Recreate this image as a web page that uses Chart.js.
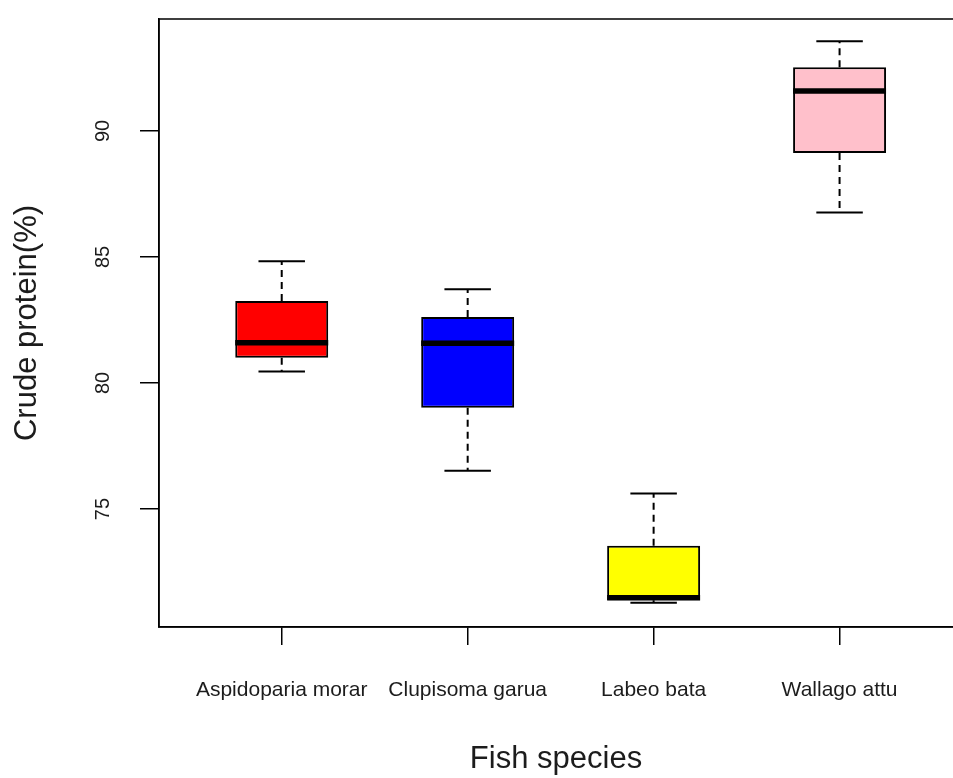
<!DOCTYPE html>
<html lang="en">
<head>
<meta charset="UTF-8">
<title>Crude protein by fish species</title>
<style>
  html, body { margin: 0; padding: 0; background: #fff; overflow: hidden; }
  #boxChart { display: block; }
</style>
</head>
<body>
<canvas id="boxChart" width="953" height="778"></canvas>
<script src="https://cdn.jsdelivr.net/npm/chart.js"></script>
<script>
// values
const species = ['Aspidoparia morar', 'Clupisoma garua', 'Labeo bata', 'Wallago attu'];
const whiskerLow = [80.46, 76.52, 71.28, 86.76];
const q1 = [81.0, 79.02, 71.38, 89.12];
const median = [81.6, 81.58, 71.48, 91.58];
const q3 = [83.25, 82.62, 73.54, 92.53];
const whiskerHigh = [84.83, 83.72, 75.62, 93.56];
const yTicks = [75, 80, 85, 90];
const boxColors = ['#ff0000', '#0000ff', '#ffff00', '#ffc0cb'];

const boxHalf = 0.25;   // boxwex 0.5
const capHalf = 0.125;  // staplewex 0.5
const xPos = species.map((s, i) => i + 1);
const font = "'Liberation Sans', Arial, sans-serif";
const ink = '#1c1c1c';

// line segments separated by null points
function segments(fn) {
    let pts = [];
    xPos.forEach((x, i) => {
        pts = pts.concat(fn(x, i));
        pts.push({ x: x, y: null });
    });
    return pts;
}

const lineBase = {
    type: 'line',
    borderColor: '#000',
    pointRadius: 0,
    fill: false,
    spanGaps: false,
    borderCapStyle: 'butt'
};

const datasets = [
    {
        type: 'bar',
        data: xPos.map((x, i) => ({ x: x, y: [q1[i], q3[i]] })),
        backgroundColor: boxColors,
        borderColor: '#000',
        borderWidth: 2,
        borderSkipped: false,
        barPercentage: boxHalf * 2,
        categoryPercentage: 1,
        order: 3
    },
    Object.assign({}, lineBase, {
        data: segments((x, i) => [{ x: x, y: q3[i] }, { x: x, y: whiskerHigh[i] }]),
        borderWidth: 2,
        borderDash: [7, 5],
        order: 2
    }),
    Object.assign({}, lineBase, {
        data: segments((x, i) => [{ x: x, y: q1[i] }, { x: x, y: whiskerLow[i] }]),
        borderWidth: 2,
        borderDash: [7, 5],
        order: 2
    }),
    Object.assign({}, lineBase, {
        data: segments((x, i) => [
            { x: x - capHalf, y: whiskerHigh[i] }, { x: x + capHalf, y: whiskerHigh[i] },
            { x: x, y: null },
            { x: x - capHalf, y: whiskerLow[i] }, { x: x + capHalf, y: whiskerLow[i] }
        ]),
        borderWidth: 2,
        order: 2
    }),
    Object.assign({}, lineBase, {
        data: segments((x, i) => [{ x: x - boxHalf, y: median[i] }, { x: x + boxHalf, y: median[i] }]),
        borderWidth: 5.5,
        order: 0
    })
];

// R style box() round the plot region
const frame = {
    id: 'frame',
    afterDraw(chart) {
        const a = chart.chartArea;
        const ctx = chart.ctx;
        ctx.save();
        ctx.strokeStyle = '#000';
        ctx.lineWidth = 1.5;
        ctx.strokeRect(a.left, a.top, a.right - a.left + 10, a.bottom - a.top);
        ctx.restore();
    }
};

function noEdgePadding(s) {
    s.paddingTop = 0;
    s.paddingBottom = 0;
    s.paddingLeft = 0;
    s.paddingRight = 0;
}

new Chart(document.getElementById('boxChart'), {
    type: 'bar',
    data: { datasets: datasets },
    plugins: [frame],
    options: {
        responsive: false,
        animation: false,
        devicePixelRatio: 1,
        layout: { padding: { top: 19, left: 0, right: 0, bottom: 0 } },
        plugins: { legend: { display: false }, tooltip: { enabled: false } },
        scales: {
            x: {
                type: 'linear',
                min: 0.34,
                max: 4.61,
                offset: false,
                afterBuildTicks: (s) => { s.ticks = xPos.map(v => ({ value: v })); },
                afterFit: (s) => { s.height = 151; noEdgePadding(s); },
                ticks: {
                    callback: (v, i) => species[i],
                    autoSkip: false,
                    maxRotation: 0,
                    padding: 33,
                    color: ink,
                    font: { family: font, size: 21 }
                },
                grid: { offset: false, drawOnChartArea: false, tickLength: 18, color: '#000', lineWidth: 1.5 },
                border: { display: true, color: '#000', width: 1.5 },
                title: {
                    display: true,
                    text: 'Fish species',
                    color: ink,
                    font: { family: font, size: 31 },
                    padding: { top: 0, bottom: 0 }
                }
            },
            y: {
                min: 70.32,
                max: 94.44,
                afterBuildTicks: (s) => { s.ticks = yTicks.map(v => ({ value: v })); },
                afterFit: (s) => { s.width = 159; noEdgePadding(s); },
                ticks: {
                    minRotation: 90,
                    maxRotation: 90,
                    crossAlign: 'center',
                    padding: 25,
                    color: ink,
                    font: { family: font, size: 20 }
                },
                grid: { drawOnChartArea: false, tickLength: 19, color: '#000', lineWidth: 1.5 },
                border: { display: true, color: '#000', width: 1.5 },
                title: {
                    display: true,
                    text: 'Crude protein(%)',
                    color: ink,
                    font: { family: font, size: 31 },
                    padding: { top: 9, bottom: 0 }
                }
            }
        }
    }
});
</script>
</body>
</html>
